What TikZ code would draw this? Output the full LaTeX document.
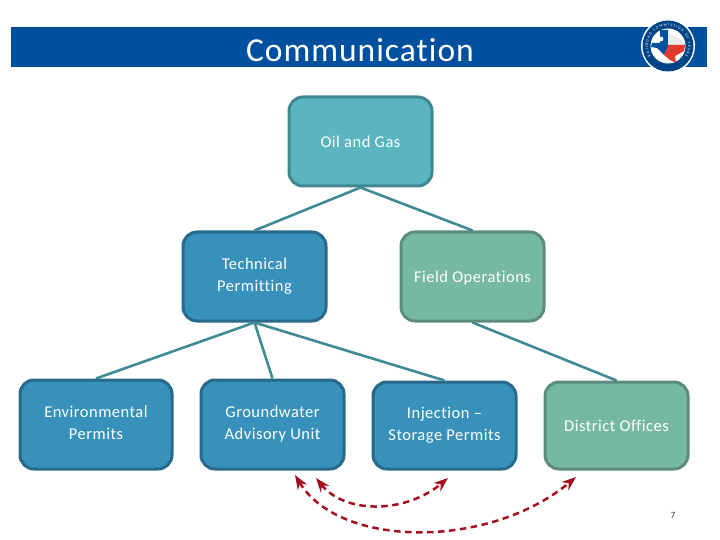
\documentclass[tikz,border=0pt]{standalone}
\usepackage{fontspec}
\setmainfont{Carlito}[LetterSpace=3,Ligatures=NoCommon]
\usepackage{tikz}
\usetikzlibrary{arrows.meta,decorations.text}
\definecolor{bannerblue}{HTML}{0050A0}
\definecolor{tealfill}{HTML}{5AB5C0}
\definecolor{tealedge}{HTML}{3F8791}
\definecolor{bluefill}{HTML}{3791BA}
\definecolor{blueedge}{HTML}{296A8B}
\definecolor{greenfill}{HTML}{75B9A0}
\definecolor{greenedge}{HTML}{5A8D7C}
\definecolor{linkcol}{HTML}{3F8A94}
\definecolor{dashcol}{HTML}{A50F1E}
\definecolor{flagred}{HTML}{E23B2E}

\begin{document}
\begin{tikzpicture}[
    x=1pt,
    y=-1pt,
    >=Stealth
]

\tikzstyle{unit}=[
    rectangle,
    rounded corners=14pt,
    line width=3pt,
    minimum width=143pt,
    minimum height=89pt,
    inner sep=2pt,
    align=center,
    text=white,
    execute at begin node={\rule{0pt}{19pt}},
    font=\fontsize{16.5}{22}\selectfont
]
\tikzstyle{topunit}=[unit, draw=tealedge, fill=tealfill]
\tikzstyle{blueunit}=[unit, draw=blueedge, fill=bluefill]
\tikzstyle{greenunit}=[unit, draw=greenedge, fill=greenfill]
\tikzstyle{link}=[draw=linkcol, line width=2.6pt]
\tikzstyle{swap}=[<->, draw=dashcol, line width=2.5pt, dash pattern=on 6.5pt off 4.5pt]

\useasboundingbox (0,0) rectangle (720,540);

% banner
\node[fill=bannerblue, minimum width=696pt, minimum height=40pt, inner sep=0pt] (banner) at (359,47) {};
\node[text=white, font=\fontsize{33.5}{38}\selectfont] (title) at (360,50) {Communication};

% seal
\fill[white] (668,46) circle (27);
\fill[bannerblue!85!black] (668,46) circle (25.5);
\fill[white] (668,46) circle (17.5);
\path[postaction={decorate, decoration={text along path, text align={fit to path},
    text={|\fontsize{3.8}{4}\selectfont\color{white}|RAILROAD COMMISSION OF TEXAS}}}]
    (668,46) ++(-210:20) arc[start angle=-210, end angle=30, radius=20];
\fill[bannerblue] (660,30) -- (668,30) -- (668,47) -- (664,55) -- (657,48) -- (651,47) -- (652,43) -- (660,43) -- cycle;
\fill[white!85!gray] (668,33) -- (681,39) -- (685,45) -- (668,45) -- cycle;
\fill[flagred] (668,45) -- (685,45) -- (684,51) -- (675,56) -- (676,63) -- (670,60) -- (664,55) -- (668,47) -- cycle;
\fill[white] (661,39) circle (2.4);

% boxes
\node[topunit] (oil) at (360.5,141.5) {\strut Oil and Gas};
\node[blueunit] (tech) at (254.5,276.5) {\strut Technical\\\strut Permitting};
\node[greenunit] (field) at (472.5,276.5) {\strut Field Operations};
\node[blueunit, minimum width=152pt] (env) at (96,424.5) {\strut Environmental\\\strut Permits};
\node[blueunit] (ground) at (272.5,424.5) {\strut Groundwater\\\strut Advisory Unit};
\node[blueunit, minimum height=87pt] (inj) at (444.5,425.5) {\strut Injection --\\\strut Storage Permits};
\node[greenunit, minimum height=87pt] (dist) at (616.5,425.5) {\strut District Offices};

% links
\draw[link] (oil.south) -- (tech.north);
\draw[link] (oil.south) -- (field.north);
\draw[link] (tech.south) -- (env.north);
\draw[link] (tech.south) -- (ground.north);
\draw[link] (tech.south) -- (inj.north);
\draw[link] (field.south) -- (dist.north);

% dashed arrows
\coordinate (outerL) at (295,475);
\coordinate (outerR) at (576,477);
\coordinate (innerL) at (316,478);
\coordinate (innerR) at (448,478);
\draw[swap] (outerL) .. controls (340,549) and (490,549) .. (outerR);
\draw[swap] (innerL) .. controls (345,514) and (405,514) .. (innerR);

\node[text=black!70, font=\fontsize{9.5}{10}\selectfont] (page) at (673,515) {7};

\end{tikzpicture}
\end{document}
